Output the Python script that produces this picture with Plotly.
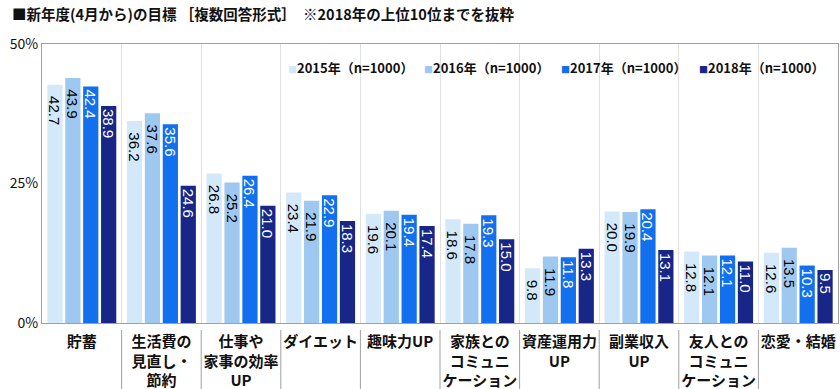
import plotly.graph_objects as go

categories = ["貯蓄", "生活費の<br>見直し・<br>節約", "仕事や<br>家事の効率<br>UP", "ダイエット", "趣味力UP",
              "家族との<br>コミュニ<br>ケーション", "資産運用力<br>UP", "副業収入<br>UP",
              "友人との<br>コミュニ<br>ケーション", "恋愛・結婚"]
series_names = ["2015年（n=1000）", "2016年（n=1000）", "2017年（n=1000）", "2018年（n=1000）"]
v2015 = [42.7, 36.2, 26.8, 23.4, 19.6, 18.6, 9.8, 20.0, 12.8, 12.6]
v2016 = [43.9, 37.6, 25.2, 21.9, 20.1, 17.8, 11.9, 19.9, 12.1, 13.5]
v2017 = [42.4, 35.6, 26.4, 22.9, 19.4, 19.3, 11.8, 20.4, 12.1, 10.3]
v2018 = [38.9, 24.6, 21.0, 18.3, 17.4, 15.0, 13.3, 13.1, 11.0, 9.5]
y_ticks = [0, 25, 50]
y_tick_labels = ["0%", "25%", "50%"]

colors = ["#d3e9f9", "#9fc8f0", "#1270ee", "#172687"]
text_colors = ["#000000", "#000000", "#ffffff", "#ffffff"]
label_pad = ["\u00a0\u00a0", "\u00a0\u00a0", "", ""]
jp_font = "Noto Sans CJK JP"

fig = go.Figure()
for name, vals, c, tc, pad in zip(series_names, [v2015, v2016, v2017, v2018], colors, text_colors, label_pad):
    fig.add_trace(go.Bar(
        x=categories, y=vals, name=name, showlegend=False,
        marker=dict(color=c, line=dict(width=0)),
        text=[f"{pad}{v:.1f}" for v in vals],
        textposition="inside", insidetextanchor="end", textangle=90,
        constraintext="none",
        textfont=dict(color=tc, size=15, family="Liberation Sans"),
        cliponaxis=False,
    ))

# category separators below the plot
for i in range(len(categories) - 1):
    fig.add_shape(type="line", xref="x", yref="paper", x0=i + 0.5, x1=i + 0.5,
                  y0=-0.025, y1=-0.24, line=dict(color="#a0a0a0", width=1))

# legend drawn as text annotations (small squares close to the labels)
legend_x = [0.3065, 0.4775, 0.6495, 0.823]
for name, c, lx in zip(series_names, colors, legend_x):
    fig.add_annotation(
        xref="paper", yref="paper", x=lx, y=0.914, xanchor="left", yanchor="middle",
        showarrow=False,
        text=f'<span style="color:{c};font-size:9px">■</span><b>{name}</b>',
        font=dict(size=13, family=jp_font, color="#111111"),
    )

fig.update_layout(
    width=840, height=389,
    margin=dict(l=42, r=2, t=44, b=66),
    paper_bgcolor="white", plot_bgcolor="white",
    barmode="group", bargap=0.1, bargroupgap=0.15,
    font=dict(family=jp_font, color="#111111"),
    title=dict(text="<b>■新年度(4月から)の目標 ［複数回答形式］　※2018年の上位10位までを抜粋</b>",
               x=0.0143, xanchor="left", y=0.961, yanchor="middle",
               font=dict(size=14.5, family=jp_font, color="#111111")),
    showlegend=False,
    xaxis=dict(type="category", tickson="boundaries", showgrid=True, gridcolor="#e0e0e0",
               ticks="", showline=True, linecolor="#a0a0a0", automargin=False,
               tickangle=0, ticklabelstandoff=5,
               tickfont=dict(size=15, family=jp_font, color="#111111"),
               range=[-0.5, len(categories) - 0.5], mirror=True),
    yaxis=dict(range=[0, 50], tickvals=y_ticks, ticktext=y_tick_labels, showgrid=False,
               showline=True, linecolor="#a0a0a0", mirror=True, zeroline=False, automargin=False,
               tickfont=dict(size=14, family=jp_font, color="#111111"), ticks=""),
)
fig.update_xaxes(tickprefix="<b>", ticksuffix="</b>")
fig.update_yaxes(tickprefix="<b>", ticksuffix="</b>")
fig.write_html("out.html", config={"displayModeBar": False},
               post_script="document.body.style.margin='0';document.body.style.overflow='hidden';")
